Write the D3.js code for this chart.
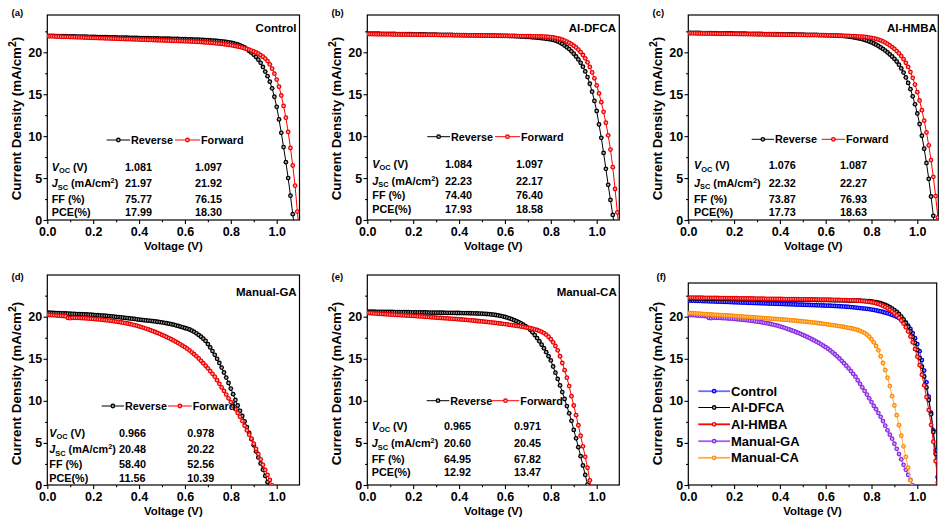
<!DOCTYPE html>
<html><head><meta charset="utf-8">
<script src="https://cdn.jsdelivr.net/npm/d3@7"></script>
<style>
body{margin:0;background:#fff}
svg{display:block;font-family:"Liberation Sans",Arial,sans-serif;font-weight:bold}
</style>
</head><body>
<svg id="chart" width="947" height="524"></svg>
<script>
// ---------------- DATA ----------------
const voltage = [
0.00,0.01,0.02,0.03,0.04,0.05,0.06,0.07,0.08,0.09,
0.10,0.11,0.12,0.13,0.14,0.15,0.16,0.17,0.18,0.19,
0.20,0.21,0.22,0.23,0.24,0.25,0.26,0.27,0.28,0.29,
0.30,0.31,0.32,0.33,0.34,0.35,0.36,0.37,0.38,0.39,
0.40,0.41,0.42,0.43,0.44,0.45,0.46,0.47,0.48,0.49,
0.50,0.51,0.52,0.53,0.54,0.55,0.56,0.57,0.58,0.59,
0.60,0.61,0.62,0.63,0.64,0.65,0.66,0.67,0.68,0.69,
0.70,0.71,0.72,0.73,0.74,0.75,0.76,0.77,0.78,0.79,
0.80,0.81,0.82,0.83,0.84,0.85,0.86,0.87,0.88,0.89,
0.90,0.91,0.92,0.93,0.94,0.95,0.96,0.97,0.98,0.99,
1.00,1.01,1.02,1.03,1.04,1.05,1.06,1.07,1.08,1.09,1.10];

const controlReverse = [
21.97,21.96,21.96,21.95,21.94,21.94,21.93,21.92,21.92,21.91,
21.90,21.90,21.89,21.88,21.88,21.87,21.86,21.86,21.85,21.84,
21.84,21.83,21.82,21.82,21.81,21.80,21.80,21.79,21.78,21.78,
21.77,21.76,21.76,21.75,21.74,21.74,21.73,21.72,21.72,21.71,
21.70,21.70,21.69,21.68,21.68,21.67,21.66,21.66,21.65,21.64,
21.64,21.63,21.62,21.62,21.61,21.60,21.60,21.59,21.58,21.57,
21.56,21.55,21.54,21.53,21.52,21.51,21.50,21.49,21.47,21.46,
21.44,21.42,21.40,21.38,21.36,21.33,21.30,21.27,21.23,21.19,
21.14,21.08,21.01,20.93,20.83,20.71,20.57,20.38,20.15,19.95,
19.72,19.45,19.12,18.75,18.25,17.70,17.15,16.50,15.70,14.70,
13.50,12.00,10.40,8.70,6.90,5.00,2.90,0.70,-1.50];
const controlForward = [
21.92,21.91,21.90,21.89,21.88,21.87,21.86,21.85,21.84,21.83,
21.82,21.81,21.80,21.79,21.78,21.77,21.76,21.75,21.74,21.73,
21.72,21.71,21.70,21.69,21.68,21.67,21.66,21.65,21.64,21.63,
21.62,21.61,21.60,21.59,21.58,21.57,21.56,21.55,21.54,21.53,
21.52,21.51,21.50,21.49,21.48,21.47,21.46,21.45,21.44,21.43,
21.42,21.41,21.40,21.39,21.38,21.37,21.36,21.35,21.34,21.33,
21.32,21.31,21.30,21.29,21.27,21.26,21.24,21.22,21.20,21.18,
21.16,21.14,21.12,21.09,21.06,21.03,21.00,20.97,20.93,20.89,
20.85,20.80,20.75,20.69,20.63,20.56,20.48,20.40,20.31,20.21,
20.10,19.98,19.84,19.66,19.47,19.25,18.95,18.55,18.05,17.45,
16.75,15.90,14.85,13.60,12.20,10.50,8.60,6.50,4.10,1.00,-2.00];

const dfcaReverse = [
22.23,22.23,22.22,22.22,22.21,22.21,22.20,22.20,22.19,22.19,
22.19,22.18,22.18,22.17,22.17,22.16,22.16,22.15,22.15,22.15,
22.14,22.14,22.13,22.13,22.12,22.12,22.11,22.11,22.11,22.10,
22.10,22.09,22.09,22.08,22.08,22.07,22.07,22.07,22.06,22.06,
22.05,22.05,22.04,22.04,22.03,22.03,22.03,22.02,22.02,22.01,
22.01,22.00,22.00,21.99,21.99,21.98,21.98,21.97,21.97,21.96,
21.96,21.95,21.94,21.93,21.92,21.91,21.90,21.88,21.87,21.85,
21.83,21.81,21.79,21.77,21.74,21.71,21.68,21.65,21.61,21.58,
21.54,21.48,21.40,21.30,21.17,21.00,20.80,20.60,20.38,20.12,
19.83,19.50,19.15,18.75,18.28,17.72,17.05,16.25,15.30,14.20,
13.00,11.40,9.80,8.00,6.10,4.20,2.40,0.60,-1.20];
const dfcaForward = [
22.17,22.17,22.16,22.16,22.16,22.15,22.15,22.15,22.14,22.14,
22.14,22.13,22.13,22.13,22.12,22.12,22.12,22.11,22.11,22.11,
22.10,22.10,22.10,22.09,22.09,22.09,22.08,22.08,22.08,22.07,
22.07,22.07,22.06,22.06,22.06,22.05,22.05,22.05,22.04,22.04,
22.04,22.03,22.03,22.03,22.02,22.02,22.02,22.01,22.01,22.01,
22.00,22.00,22.00,21.99,21.99,21.99,21.98,21.98,21.98,21.97,
21.97,21.97,21.96,21.96,21.95,21.95,21.94,21.94,21.93,21.93,
21.92,21.92,21.91,21.91,21.90,21.90,21.89,21.88,21.86,21.84,
21.82,21.77,21.72,21.66,21.60,21.50,21.40,21.28,21.13,20.97,
20.78,20.57,20.32,20.02,19.68,19.28,18.80,18.25,17.60,16.90,
16.05,15.10,14.05,12.90,11.60,10.10,8.40,6.30,3.70,0.90,-2.00];

const hmbaReverse = [
22.32,22.32,22.31,22.31,22.30,22.30,22.29,22.29,22.28,22.28,
22.28,22.27,22.27,22.26,22.26,22.25,22.25,22.24,22.24,22.24,
22.23,22.23,22.22,22.22,22.21,22.21,22.20,22.20,22.20,22.19,
22.19,22.18,22.18,22.17,22.17,22.16,22.16,22.16,22.15,22.15,
22.14,22.14,22.13,22.13,22.12,22.12,22.12,22.11,22.11,22.10,
22.10,22.09,22.09,22.08,22.08,22.07,22.07,22.06,22.06,22.05,
22.04,22.03,22.02,22.01,22.00,21.99,21.97,21.95,21.93,21.90,
21.87,21.83,21.79,21.74,21.69,21.63,21.56,21.48,21.39,21.29,
21.18,21.05,20.91,20.75,20.58,20.40,20.20,19.98,19.75,19.50,
19.22,18.90,18.52,18.08,17.58,17.00,16.35,15.60,14.75,13.80,
12.70,11.45,10.05,8.50,6.80,4.90,2.80,0.50,-1.90];
const hmbaForward = [
22.27,22.27,22.26,22.26,22.25,22.25,22.25,22.24,22.24,22.23,
22.23,22.23,22.22,22.22,22.21,22.21,22.21,22.20,22.20,22.19,
22.19,22.19,22.18,22.18,22.17,22.17,22.17,22.16,22.16,22.15,
22.15,22.15,22.14,22.14,22.13,22.13,22.13,22.12,22.12,22.11,
22.11,22.11,22.10,22.10,22.09,22.09,22.09,22.08,22.08,22.07,
22.07,22.07,22.06,22.06,22.05,22.05,22.05,22.04,22.04,22.03,
22.03,22.02,22.02,22.01,22.01,22.00,21.99,21.98,21.97,21.96,
21.95,21.94,21.93,21.92,21.90,21.88,21.86,21.83,21.80,21.76,
21.72,21.67,21.60,21.52,21.42,21.30,21.16,21.00,20.82,20.62,
20.40,20.15,19.87,19.55,19.18,18.75,18.25,17.65,16.95,16.15,
15.25,14.25,13.10,11.85,10.45,8.90,7.15,5.15,2.85,0.30,-2.50];

const gaReverse = [
20.48,20.47,20.45,20.44,20.43,20.42,20.40,20.39,20.38,20.37,
20.35,20.34,20.33,20.31,20.30,20.29,20.27,20.26,20.24,20.23,
20.21,20.19,20.17,20.15,20.13,20.11,20.09,20.06,20.04,20.01,
19.98,19.95,19.92,19.89,19.86,19.83,19.80,19.76,19.73,19.69,
19.65,19.62,19.59,19.56,19.53,19.50,19.47,19.44,19.40,19.36,
19.32,19.27,19.22,19.17,19.11,19.05,18.98,18.90,18.82,18.74,
18.66,18.58,18.48,18.35,18.20,18.03,17.84,17.62,17.38,17.12,
16.75,16.35,15.92,15.47,15.00,14.50,13.95,13.37,12.76,12.12,
11.46,10.79,10.10,9.45,8.82,8.20,7.55,6.88,6.18,5.45,
4.72,4.00,3.28,2.56,1.82,1.08,0.34,-0.40];
const gaForward = [
20.22,20.20,20.18,20.16,20.14,20.12,20.10,20.08,20.05,19.85,
19.82,19.88,19.87,19.86,19.85,19.83,19.82,19.80,19.78,19.76,
19.73,19.71,19.68,19.66,19.63,19.60,19.57,19.54,19.50,19.46,
19.42,19.38,19.34,19.29,19.24,19.19,19.13,19.07,19.00,18.93,
18.85,18.77,18.68,18.59,18.49,18.39,18.29,18.18,18.07,17.96,
17.84,17.72,17.59,17.46,17.32,17.18,17.03,16.88,16.72,16.55,
16.38,16.19,15.99,15.77,15.54,15.29,15.03,14.76,14.47,14.17,
13.86,13.54,13.21,12.87,12.45,12.02,11.60,11.18,10.75,10.30,
9.85,9.40,9.00,8.55,8.10,7.60,7.05,6.50,5.98,5.50,
4.90,4.30,3.68,3.05,2.40,1.80,1.20,0.60,-0.05];

const caReverse = [
20.60,20.60,20.59,20.59,20.58,20.58,20.58,20.57,20.57,20.56,
20.56,20.56,20.55,20.55,20.54,20.54,20.54,20.53,20.53,20.52,
20.52,20.52,20.51,20.51,20.50,20.50,20.50,20.49,20.49,20.48,
20.48,20.48,20.47,20.47,20.46,20.46,20.46,20.45,20.45,20.44,
20.44,20.43,20.43,20.42,20.42,20.41,20.40,20.39,20.38,20.37,
20.36,20.34,20.32,20.30,20.27,20.24,20.20,20.15,20.10,20.04,
19.97,19.89,19.80,19.70,19.59,19.47,19.34,19.20,19.05,18.89,
18.70,18.45,18.15,17.82,17.46,17.08,16.68,16.25,15.79,15.30,
14.80,14.08,13.35,12.60,11.83,11.04,10.22,9.38,8.52,7.63,
6.55,5.55,4.50,3.42,2.32,1.20,0.05,-1.10];
const caForward = [
20.45,20.43,20.41,20.39,20.37,20.35,20.33,20.31,20.29,20.27,
20.26,20.24,20.22,20.20,20.19,20.17,20.15,20.14,20.12,20.11,
20.09,20.07,20.05,20.03,20.01,19.99,19.97,19.95,19.93,19.91,
19.89,19.87,19.85,19.83,19.81,19.79,19.77,19.75,19.73,19.71,
19.69,19.67,19.65,19.62,19.60,19.57,19.55,19.52,19.49,19.46,
19.44,19.41,19.38,19.35,19.32,19.29,19.26,19.22,19.19,19.15,
19.12,19.08,19.04,19.00,18.96,18.92,18.88,18.83,18.78,18.73,
18.68,18.63,18.57,18.50,18.42,18.32,18.20,18.05,17.86,17.62,
17.32,16.96,16.52,16.00,15.30,14.50,13.65,12.75,11.75,10.55,
9.45,8.30,7.10,5.85,4.60,3.35,2.05,0.55,-1.00];

// Table values: [Voc, Jsc, FF, PCE]
const controlRevStats = ["1.081","21.97","75.77","17.99"];
const controlFwdStats = ["1.097","21.92","76.15","18.30"];
const dfcaRevStats = ["1.084","22.23","74.40","17.93"];
const dfcaFwdStats = ["1.097","22.17","76.40","18.58"];
const hmbaRevStats = ["1.076","22.32","73.87","17.73"];
const hmbaFwdStats = ["1.087","22.27","76.93","18.63"];
const gaRevStats = ["0.966","20.48","58.40","11.56"];
const gaFwdStats = ["0.978","20.22","52.56","10.39"];
const caRevStats = ["0.965","20.60","64.95","12.92"];
const caFwdStats = ["0.971","20.45","67.82","13.47"];

const panelLetters = ["(a)","(b)","(c)","(d)","(e)","(f)"];
const panelTitles = ["Control","AI-DFCA","AI-HMBA","Manual-GA","Manual-CA"];
const legendLabels = ["Reverse","Forward"];
const summaryNames = ["Control","AI-DFCA","AI-HMBA","Manual-GA","Manual-CA"];
const xMajorTicks = [0.0,0.2,0.4,0.6,0.8,1.0];
const xMinorTicks = [0.1,0.3,0.5,0.7,0.9];
const yMajorTicks = [0,5,10,15,20];
const yMinorTicks = [2.5,7.5,12.5,17.5,22.5];

// ---------------- DRAWING ----------------
const svg = d3.select('#chart');
const defs = svg.append('defs');
const palette = {
  black:{line:'#000000', edge:'#000000', core:'#b0b0b0'},
  red:{line:'#ff0000', edge:'#ee0000', core:'#ffb0b0'},
  blue:{line:'#6b6bff', edge:'#0000f0', core:'#9a9aff'},
  purple:{line:'#a45cff', edge:'#8a2be2', core:'#d8b2ff'},
  orange:{line:'#ffab50', edge:'#ff8c00', core:'#ffd8a4'}
};
Object.entries(palette).forEach(([name,c])=>{
  const g = defs.append('radialGradient').attr('id','ball-'+name);
  g.append('stop').attr('offset','0%').attr('stop-color',c.core);
  g.append('stop').attr('offset','22%').attr('stop-color',c.core);
  g.append('stop').attr('offset','65%').attr('stop-color',c.edge);
  g.append('stop').attr('offset','100%').attr('stop-color',c.edge);
});

const frames = [
  {left:47.3, right:299.5, top:15, bottom:220, pxV:229.4, k:8.385, xPad:3, letter:[11.5,16], titleX:296.5, titleY:31.5},
  {left:367.3, right:619.3, top:15, bottom:220, pxV:229.4, k:8.385, xPad:3, letter:[331.5,16], titleX:616, titleY:31.5},
  {left:688.3, right:938.3, top:15, bottom:220, pxV:229.0, k:8.385, xPad:3, letter:[652.5,16], titleX:936.8, titleY:31.5},
  {left:47.3, right:299.5, top:275, bottom:485, pxV:229.4, k:8.415, xPad:3, letter:[11.5,280], titleX:296.7, titleY:296},
  {left:367.3, right:619.3, top:275, bottom:485, pxV:229.4, k:8.415, xPad:3, letter:[331.5,280], titleX:616.7, titleY:296},
  {left:688.3, right:936.7, top:283, bottom:485, pxV:229.0, k:8.415, xPad:3, letter:[656.5,279.5]}
];

function setupPanel(i){
  const f = frames[i];
  const x = d3.scaleLinear().domain([0,1]).range([f.left, f.left + f.pxV]);
  const y = d3.scaleLinear().domain([0,20]).range([f.bottom, f.bottom - 20*f.k]);
  const g = svg.append('g');
  const clipId = 'clip' + i;
  defs.append('clipPath').attr('id',clipId).append('rect')
    .attr('x',f.left).attr('y',f.top).attr('width',f.right-f.left).attr('height',f.bottom-f.top);

  const xa = g.append('g').attr('transform',`translate(0,${f.bottom})`)
    .call(d3.axisBottom(x).tickValues(xMajorTicks).tickFormat(d3.format('.1f')).tickSize(4).tickPadding(f.xPad));
  xa.select('.domain').remove();
  xa.selectAll('text').attr('font-size',12.5).attr('font-family','"Liberation Sans",Arial,sans-serif').attr('font-weight','bold').attr('fill','#000');
  xa.selectAll('line').attr('stroke-width',1.1);
  const xm = g.append('g').attr('transform',`translate(0,${f.bottom})`)
    .call(d3.axisBottom(x).tickValues(xMinorTicks).tickFormat('').tickSize(2.2));
  xm.select('.domain').remove();
  xm.selectAll('line').attr('stroke-width',1.1);

  const ya = g.append('g').attr('transform',`translate(${f.left},0)`)
    .call(d3.axisLeft(y).tickValues(yMajorTicks).tickFormat(d3.format('d')).tickSize(3.8).tickPadding(1.4));
  ya.select('.domain').remove();
  ya.selectAll('text').attr('font-size',12.5).attr('font-family','"Liberation Sans",Arial,sans-serif').attr('font-weight','bold').attr('fill','#000');
  ya.selectAll('line').attr('stroke-width',1.1);
  const ym = g.append('g').attr('transform',`translate(${f.left},0)`)
    .call(d3.axisLeft(y).tickValues(yMinorTicks.filter(v=>y(v) > f.top)).tickFormat('').tickSize(2.2));
  ym.select('.domain').remove();
  ym.selectAll('line').attr('stroke-width',1.1);

  g.append('rect').attr('x',f.left).attr('y',f.top).attr('width',f.right-f.left).attr('height',f.bottom-f.top)
    .attr('fill','none').attr('stroke','#000').attr('stroke-width',1.2);

  g.append('text').attr('x',(f.left+f.right)/2).attr('y',f.bottom+29.8).attr('text-anchor','middle')
    .attr('font-size',11.4).text('Voltage (V)');
  const yt = g.append('text').attr('transform',`translate(${f.left-26},${f.bottom-101.5}) rotate(-90)`)
    .attr('text-anchor','middle').attr('font-size',13.4);
  yt.append('tspan').text('Current Density (mA/cm');
  yt.append('tspan').attr('dy',-5).attr('font-size',10.5).text('2');
  yt.append('tspan').attr('dy',5).text(')');

  g.append('text').attr('x',f.letter[0]).attr('y',f.letter[1]).attr('font-size',9.5).text(panelLetters[i]);
  if (i < 5) {
    g.append('text').attr('x',f.titleX).attr('y',f.titleY).attr('text-anchor','end')
      .attr('font-size',11.5).text(panelTitles[i]);
  }
  return {g, x, y, clipId, f};
}

function drawSeries(p, data, color){
  const c = palette[color];
  const pts = data.map((j,i)=>({v:voltage[i], j:j}));
  const sg = p.g.append('g').attr('clip-path',`url(#${p.clipId})`);
  sg.append('path').datum(pts)
    .attr('d', d3.line().x(d=>p.x(d.v)).y(d=>p.y(d.j)))
    .attr('fill','none').attr('stroke',c.line).attr('stroke-width',1);
  sg.selectAll('circle').data(pts).join('circle')
    .attr('cx',d=>p.x(d.v)).attr('cy',d=>p.y(d.j)).attr('r',2.4)
    .attr('fill',`url(#ball-${color})`);
}

function legendItem(g, x1, x2, y, color, label, lw, fontSize){
  const c = palette[color];
  g.append('line').attr('x1',x1).attr('x2',x2).attr('y1',y).attr('y2',y)
    .attr('stroke',c.line).attr('stroke-width',lw);
  g.append('circle').attr('cx',(x1+x2)/2).attr('cy',y).attr('r',2.4).attr('fill',`url(#ball-${color})`);
  g.append('text').attr('x',x2+1).attr('y',y+fontSize*0.36).attr('font-size',fontSize).text(label);
}

function drawTable(g, lx, c1, c2, rows, rev, fwd){
  const fs = 10.8;
  rows.forEach((ry,r)=>{
    const t = g.append('text').attr('x',lx).attr('y',ry+3.8).attr('font-size',fs);
    if (r === 0){
      t.append('tspan').attr('font-style','italic').text('V');
      t.append('tspan').attr('font-size',7.4).attr('dy',2.5).text('OC');
      t.append('tspan').attr('dy',-2.5).text(' (V)');
    } else if (r === 1){
      t.append('tspan').attr('font-style','italic').text('J');
      t.append('tspan').attr('font-size',7.4).attr('dy',2.5).text('SC');
      t.append('tspan').attr('dy',-2.5).text(' (mA/cm');
      t.append('tspan').attr('font-size',7.4).attr('dy',-4).text('2');
      t.append('tspan').attr('dy',4).text(')');
    } else if (r === 2){
      t.text('FF (%)');
    } else {
      t.text('PCE(%)');
    }
    g.append('text').attr('x',c1).attr('y',ry+3.8).attr('font-size',fs).text(rev[r]);
    g.append('text').attr('x',c2).attr('y',ry+3.8).attr('font-size',fs).text(fwd[r]);
  });
}

const pairPanels = [
  {rev:controlReverse, fwd:controlForward, rs:controlRevStats, fs:controlFwdStats,
   leg:[106.7,130,175,200], legY:140, tbl:[51.7,125,195], rows:[166.7,183.3,199.3,212.3]},
  {rev:dfcaReverse, fwd:dfcaForward, rs:dfcaRevStats, fs:dfcaFwdStats,
   leg:[427.3,450,495,520], legY:136.7, tbl:[372.3,445,516], rows:[164,181,195.5,209.5]},
  {rev:hmbaReverse, fwd:hmbaForward, rs:hmbaRevStats, fs:hmbaFwdStats,
   leg:[751.7,774,821.7,845], legY:139.3, tbl:[694,768.7,840], rows:[165.3,182.7,199,212]},
  {rev:gaReverse, fwd:gaForward, rs:gaRevStats, fs:gaFwdStats,
   leg:[101.7,124,168,191.7], legY:406, tbl:[49.3,119,187.3], rows:[432.7,449.3,464,477.7]},
  {rev:caReverse, fwd:caForward, rs:caRevStats, fs:caFwdStats,
   leg:[426.7,449.3,491.7,519.3], legY:400.7, tbl:[371.7,444,514], rows:[425.7,443.3,459,472.3]}
];

pairPanels.forEach((pp,i)=>{
  const p = setupPanel(i);
  drawSeries(p, pp.rev, 'black');
  drawSeries(p, pp.fwd, 'red');
  legendItem(p.g, pp.leg[0], pp.leg[1], pp.legY, 'black', legendLabels[0], 1, 10.8);
  legendItem(p.g, pp.leg[2], pp.leg[3], pp.legY, 'red', legendLabels[1], 1, 10.8);
  drawTable(p.g, pp.tbl[0], pp.tbl[1], pp.tbl[2], pp.rows, pp.rs, pp.fs);
});

const pf = setupPanel(5);
const summarySeries = [controlForward, dfcaForward, hmbaForward, gaForward, caForward];
const summaryColors = ['blue','black','red','purple','orange'];
summarySeries.forEach((s,i)=>drawSeries(pf, s, summaryColors[i]));
const legRows = [391.2, 407.5, 424.3, 441.2, 457.8];
summaryNames.forEach((n,i)=>{
  legendItem(pf.g, 698.3, 730, legRows[i], summaryColors[i], n, i===1?1:1.8, 13);
});
</script>
</body></html>
